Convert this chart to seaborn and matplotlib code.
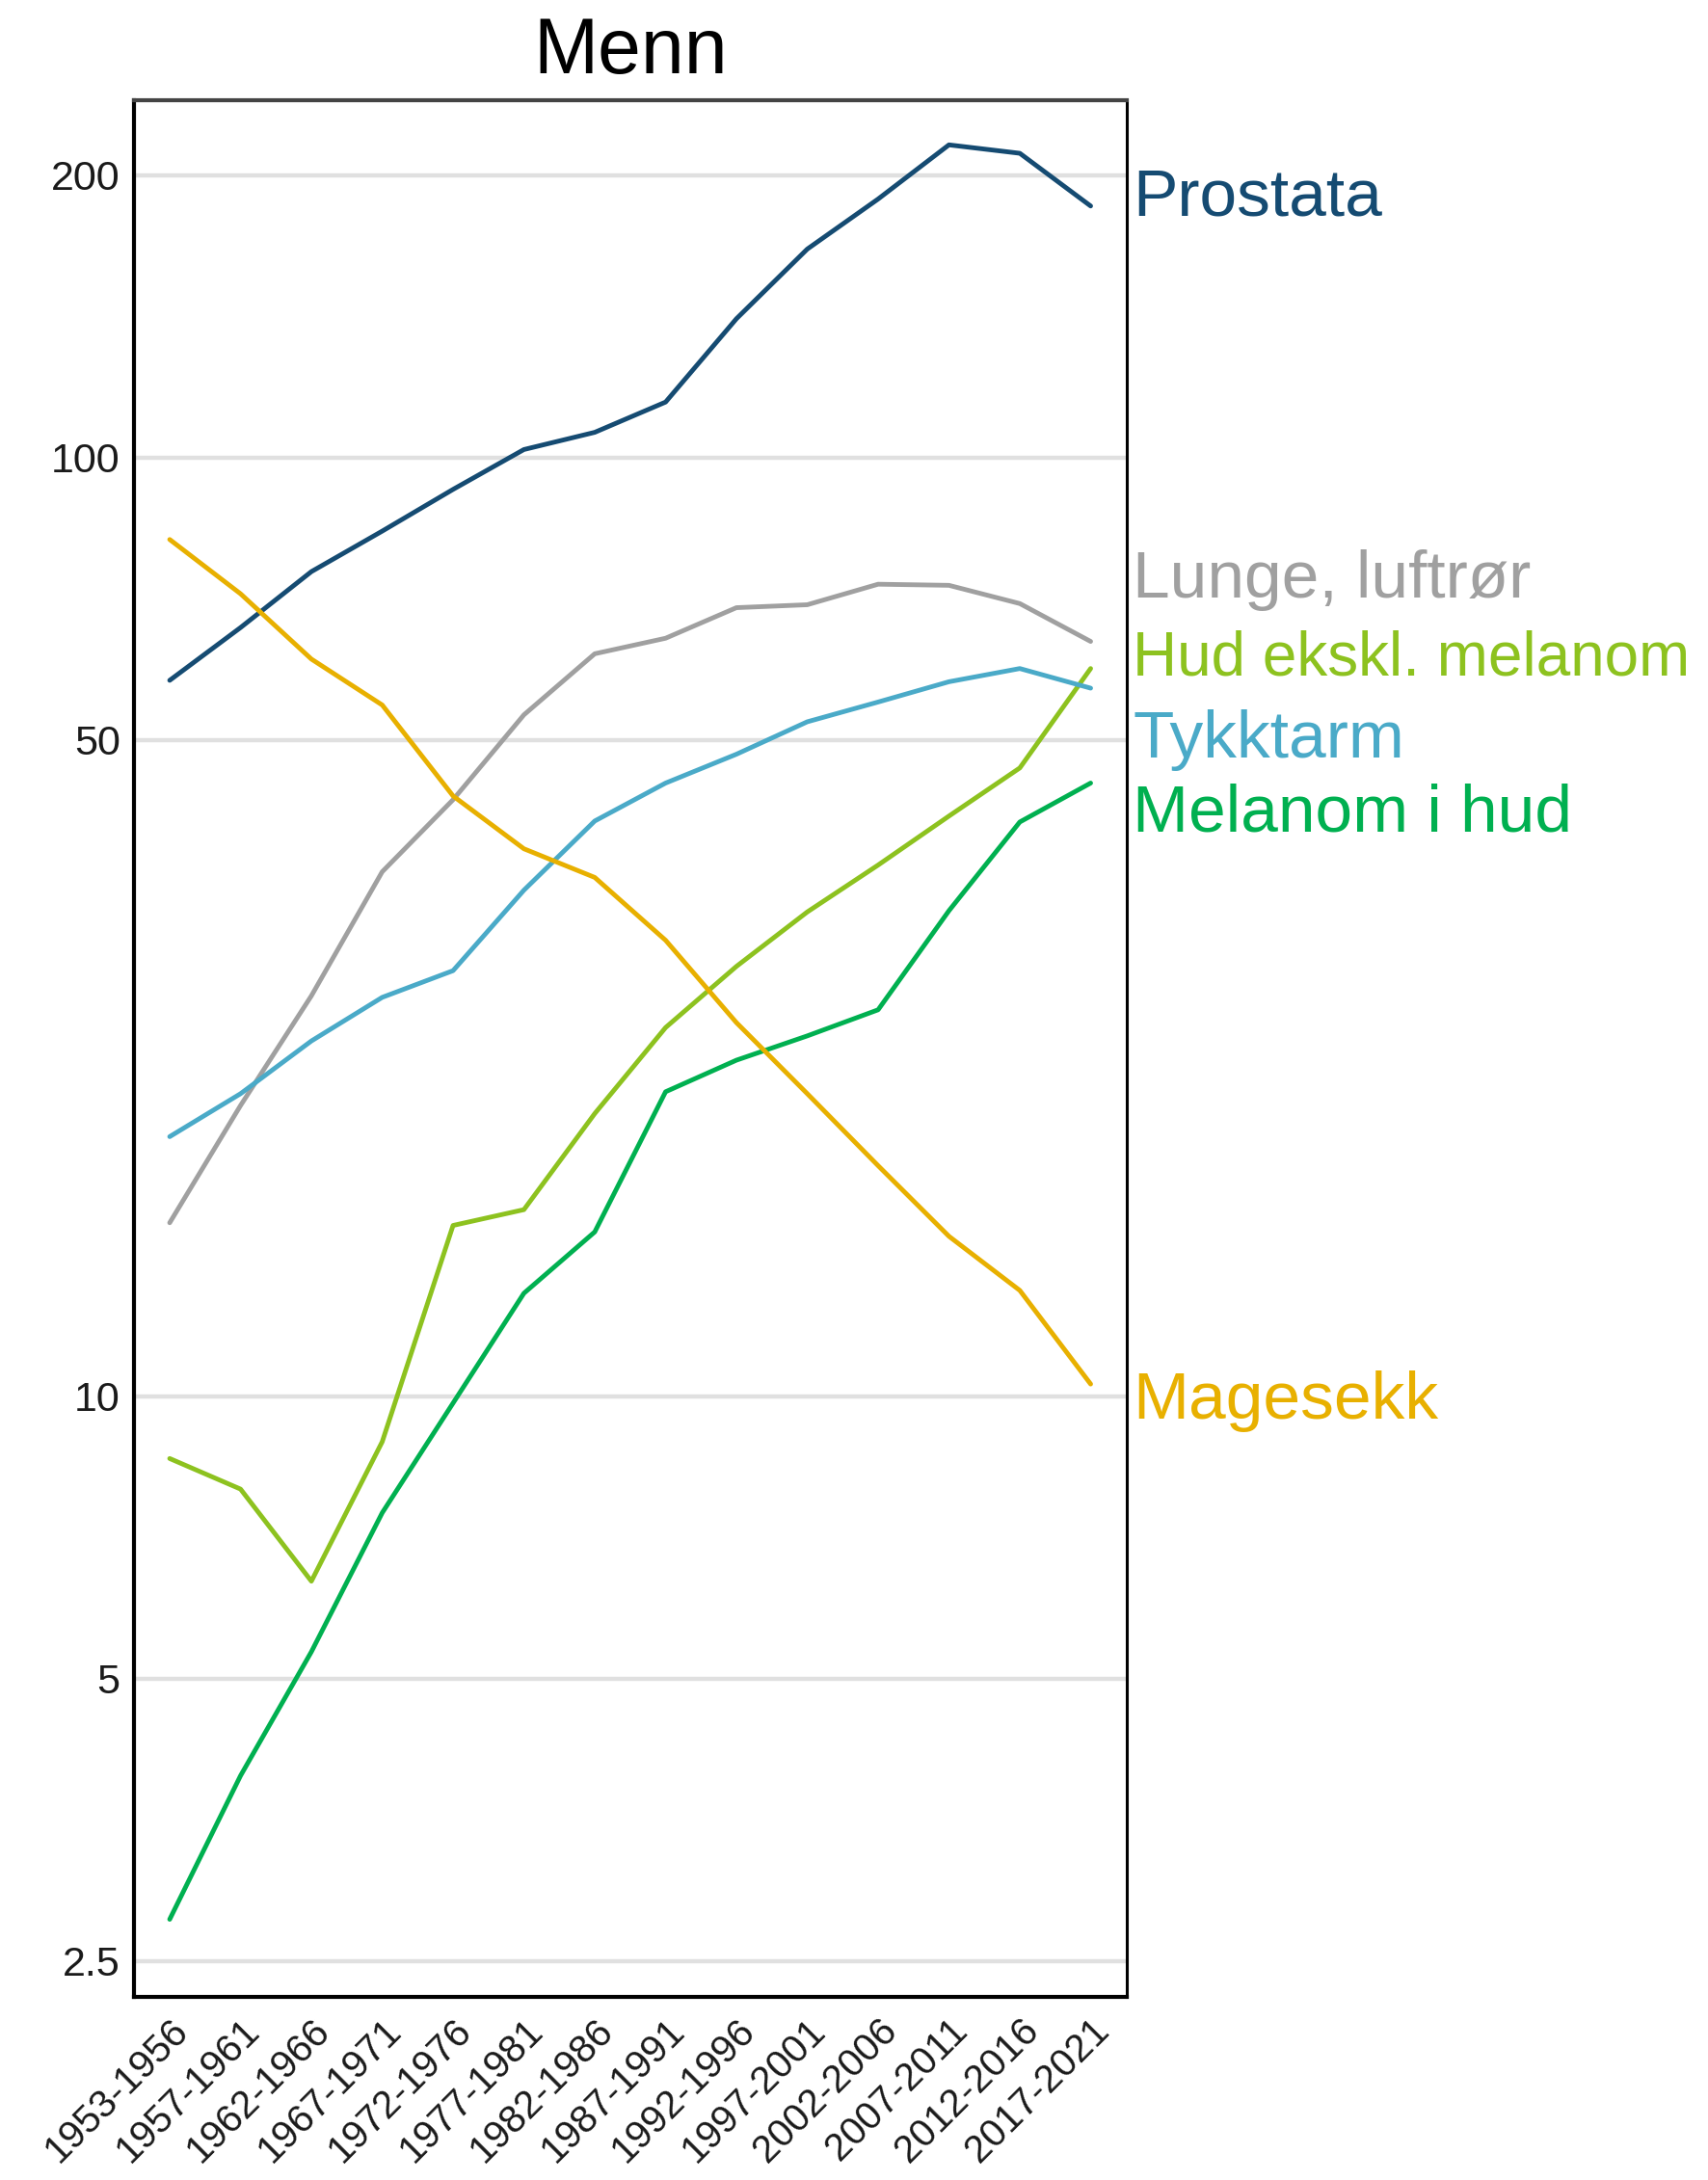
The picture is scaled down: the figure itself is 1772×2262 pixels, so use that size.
import matplotlib
matplotlib.use("Agg")
import matplotlib.pyplot as plt
import matplotlib.ticker as mticker
import matplotlib.transforms as mtransforms
import numpy as np
import pandas as pd
import seaborn as sns

# Periods (x axis)
periods = ["1953-1956", "1957-1961", "1962-1966", "1967-1971", "1972-1976",
           "1977-1981", "1982-1986", "1987-1991", "1992-1996", "1997-2001",
           "2002-2006", "2007-2011", "2012-2016", "2017-2021"]

# Incidence per 100 000, men
prostata = [57.9, 65.9, 75.6, 83.5, 92.5, 102.0, 106.4, 114.6, 140.6, 166.8,
            188.6, 215.4, 211.0, 185.4]
lunge = [15.3, 20.4, 26.7, 36.2, 43.2, 53.2, 61.8, 64.2, 69.2, 69.7,
         73.3, 73.1, 69.9, 63.7]
hud_ekskl = [8.58, 7.96, 6.35, 8.94, 15.2, 15.8, 20.0, 24.7, 28.7, 32.8,
             36.8, 41.5, 46.7, 59.6]
tykktarm = [18.9, 21.0, 23.9, 26.6, 28.4, 34.6, 41.0, 45.0, 48.3, 52.3,
            54.9, 57.7, 59.6, 56.8]
melanom = [2.77, 3.94, 5.34, 7.51, 9.83, 12.87, 14.96, 21.1, 22.8, 24.2,
           25.8, 32.9, 40.9, 45.0]
magesekk = [81.8, 71.6, 61.0, 54.5, 43.6, 38.3, 35.7, 30.6, 25.0, 21.0,
            17.6, 14.8, 12.96, 10.3]

series_names = ["Prostata", "Lunge, luftrør", "Hud ekskl. melanom",
                "Tykktarm", "Melanom i hud", "Magesekk"]
series_values = [prostata, lunge, hud_ekskl, tykktarm, melanom, magesekk]
series_colors = ["#154b72", "#a0a0a0", "#8dc21f", "#4aaac8", "#00b050", "#e8b000"]

y_ticks = [2.5, 5, 10, 50, 100, 200]
y_tick_labels = ["2.5", "5", "10", "50", "100", "200"]

# End-of-line label baselines (in data units) and font sizes
label_y = [181.0, 70.9, 58.7, 47.9, 40.0, 9.47]
label_size = [50, 50, 46, 50, 50, 50]

rows = []
for name, vals in zip(series_names, series_values):
    for i, v in enumerate(vals):
        rows.append({"Periode": i, "Rate": v, "Kreftform": name})
df = pd.DataFrame(rows)

sns.set_theme(style="white")
plt.rcParams["font.family"] = ["Liberation Sans", "DejaVu Sans"]

fig = plt.figure(figsize=(17.72, 22.62), dpi=100)
ax = fig.add_axes([0.0782, 0.084, 0.5815, 0.870])

ax.set_yscale("log")
for t in y_ticks:
    ax.axhline(t, color="#e0e0e0", lw=3.2, zorder=0)

sns.lineplot(data=df, x="Periode", y="Rate", hue="Kreftform",
             hue_order=series_names, palette=series_colors,
             linewidth=3.5, legend=False, ax=ax, zorder=3)

ax.set_xlim(-0.51, 13.51)
ax.set_ylim(2.29, 240.3)
ax.set_yticks(y_ticks)
ax.set_yticklabels(y_tick_labels)
ax.yaxis.set_minor_locator(mticker.NullLocator())
ax.set_xticks(range(len(periods)))
ax.set_xticklabels(periods, rotation=45, ha="right", rotation_mode="anchor")
ax.tick_params(axis="y", length=0, pad=10, labelsize=31, labelcolor="#1a1a1a")
ax.tick_params(axis="x", length=0, pad=11, labelsize=29, labelcolor="#1a1a1a")
ax.set_xlabel("")
ax.set_ylabel("")

for sp in ax.spines.values():
    sp.set_visible(True)
    sp.set_color("black")
    sp.set_linewidth(3.0)
ax.spines["top"].set_color("#444444")
ax.spines["right"].set_linewidth(2.2)

ax.set_title("Menn", fontsize=58, pad=20, color="black")

trans = mtransforms.blended_transform_factory(ax.transAxes, ax.transData)
for name, col, yv, fs in zip(series_names, series_colors, label_y, label_size):
    ax.text(1.006, yv, name, transform=trans, color=col, fontsize=fs,
            ha="left", va="baseline", clip_on=False)

fig.savefig("out.png", dpi=100, facecolor="white")
